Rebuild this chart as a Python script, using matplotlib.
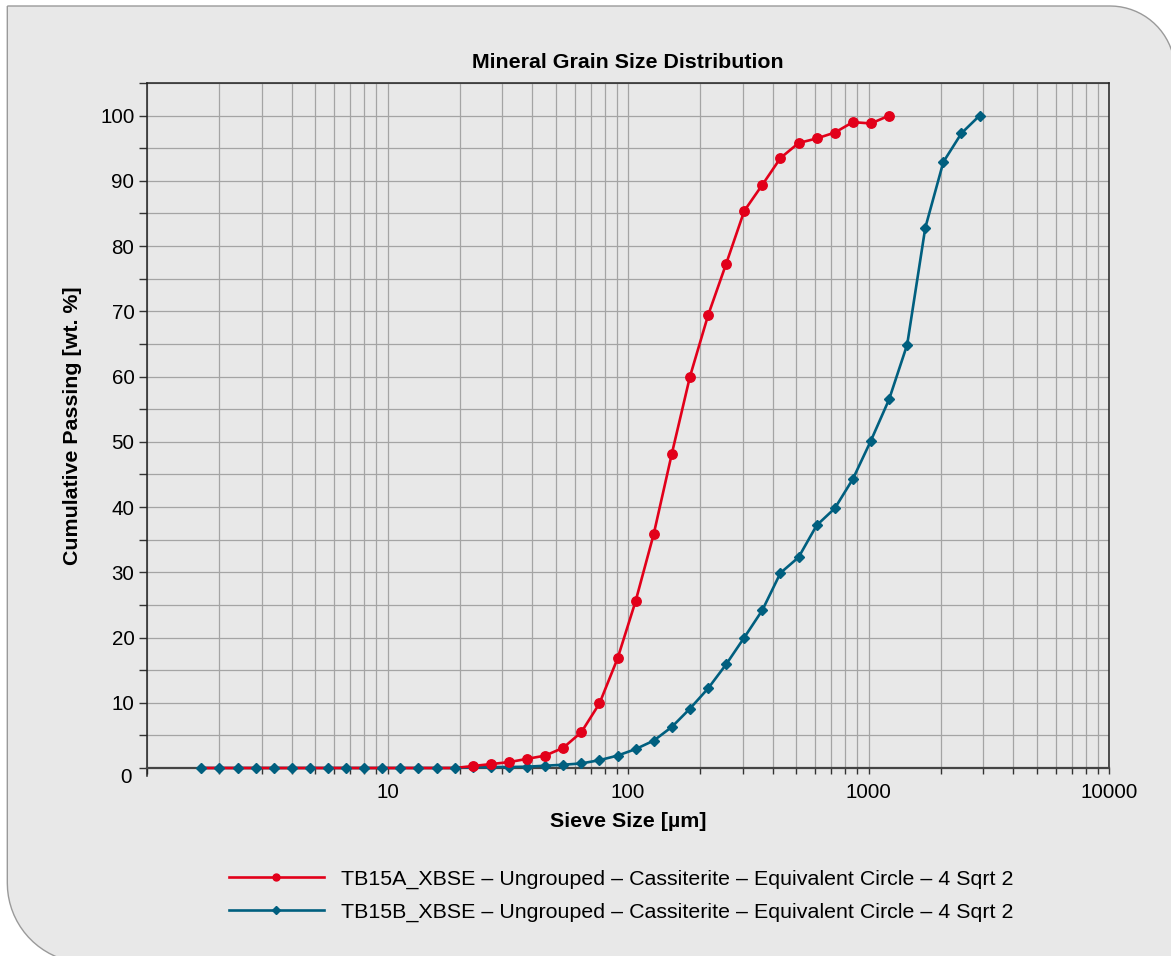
import numpy as np
import matplotlib
matplotlib.use("Agg")
import matplotlib.pyplot as plt
from matplotlib.path import Path
from matplotlib.patches import PathPatch
from matplotlib.lines import Line2D
from matplotlib.ticker import FixedLocator, LogLocator, NullFormatter

plt.rcParams["font.family"] = ["Liberation Sans", "DejaVu Sans"]

# Sieve sizes (4th root of 2 series) in µm
sieve_a = [1.68, 2, 2.38, 2.83, 3.36, 4, 4.76, 5.66, 6.73, 8, 9.51, 11.31, 13.45,
           16, 19.03, 22.63, 26.91, 32, 38.05, 45.25, 53.82, 64, 76.11, 90.51,
           107.6, 128, 152.2, 181, 215.3, 256, 304.4, 362, 430.5, 512, 608.9,
           724.1, 861.1, 1024, 1217.8]
sieve_b = sieve_a + [1448.2, 1722.2, 2048, 2435.5, 2896.3]

# Cumulative passing [wt. %]
passing_a = [0, 0, 0, 0, 0, 0, 0, 0, 0, 0, 0, 0, 0, 0, 0,
             0.3, 0.6, 0.9, 1.4, 1.9, 3.1, 5.5, 9.9, 16.8, 25.6, 35.9, 48.2,
             60.0, 69.4, 77.3, 85.4, 89.4, 93.5, 95.8, 96.5, 97.4, 99.0, 98.8, 100]
passing_b = [0, 0, 0, 0, 0, 0, 0, 0, 0, 0, 0, 0, 0, 0, 0,
             0.1, 0.15, 0.15, 0.2, 0.35, 0.5, 0.7, 1.2, 1.9, 2.9, 4.2, 6.3,
             9.1, 12.2, 15.9, 20.0, 24.2, 29.9, 32.3, 37.2, 39.8, 44.3, 50.2,
             56.5, 64.9, 82.8, 92.9, 97.3, 100]

label_a = "TB15A_XBSE \u2013 Ungrouped \u2013 Cassiterite \u2013 Equivalent Circle \u2013 4 Sqrt 2"
label_b = "TB15B_XBSE \u2013 Ungrouped \u2013 Cassiterite \u2013 Equivalent Circle \u2013 4 Sqrt 2"

red = "#e2001a"
teal = "#005f7f"
bg = "#e8e8e8"

W, H = 1171, 956
fig = plt.figure(figsize=(W / 100, H / 100), dpi=100, facecolor="white")

# rounded panel background (top-right and bottom-left corners rounded)
def px(x, y):
    return (x / W, 1 - y / H)

left, top, right, bottom = 7.3, 6, 1175, 963
r1, r2 = 65, 80
verts = [px(left, top), px(right - r1, top)]
for t in np.linspace(90, 0, 20):
    verts.append(px(right - r1 + r1 * np.cos(np.radians(t)), top + r1 - r1 * np.sin(np.radians(t))))
verts.append(px(right, bottom))
verts.append(px(left + r2, bottom))
for t in np.linspace(270, 180, 20):
    verts.append(px(left + r2 + r2 * np.cos(np.radians(t)), bottom - r2 - r2 * np.sin(np.radians(t))))
verts.append(px(left, top))
panel = PathPatch(Path(verts), facecolor=bg, edgecolor="#9a9a9a", lw=1.0,
                  transform=fig.transFigure, zorder=-10)
fig.add_artist(panel)

ax = fig.add_axes([147 / W, 1 - 768 / H, (1109 - 147) / W, (768 - 83) / H], zorder=1)
ax.set_facecolor(bg)
ax.set_xscale("log")
ax.set_xlim(1, 10000)
ax.set_ylim(0, 105)

# lines first, then markers so the diamonds sit over the red baseline
ax.plot(sieve_b, passing_b, color=teal, lw=1.9, zorder=3, clip_on=False)
ax.plot(sieve_a, passing_a, color=red, lw=1.9, zorder=4, clip_on=False)
ax.plot(sieve_b, passing_b, ls="none", marker="D", ms=5.4, color=teal, zorder=5, clip_on=False)
ax.plot(sieve_a, passing_a, ls="none", marker="o", ms=6.8, color=red,
        markevery=slice(15, None), zorder=6, clip_on=False)

# ticks
ax.xaxis.set_major_locator(FixedLocator([10, 100, 1000, 10000]))
ax.xaxis.set_minor_locator(LogLocator(base=10, subs=np.arange(1, 10), numticks=20))
ax.xaxis.set_minor_formatter(NullFormatter())
ax.set_xticklabels(["10", "100", "1000", "10000"])
ax.yaxis.set_major_locator(FixedLocator(np.arange(10, 101, 10)))
ax.yaxis.set_minor_locator(FixedLocator(np.arange(0, 106, 5)))
ax.tick_params(axis="x", which="both", direction="out", length=4, width=1, color="#333333",
               labelsize=14.8, pad=7)
ax.tick_params(axis="y", which="both", direction="out", length=6, width=1, color="#333333",
               labelsize=14.8, pad=3)
ax.annotate("0", xy=(0, 0), xycoords=("axes fraction", "data"), xytext=(-10.8, -6.5),
            textcoords="offset points", ha="right", va="center", fontsize=14.8)

ax.grid(True, which="both", color="#a4a4a4", lw=0.9, zorder=1)
ax.set_axisbelow(True)

for s in ["left", "top", "right"]:
    ax.spines[s].set_color("#222222")
    ax.spines[s].set_linewidth(1.1)
ax.spines["bottom"].set_color("#444444")
ax.spines["bottom"].set_linewidth(1.6)
ax.spines["left"].set_bounds(-1.2, 105)

ax.set_title("Mineral Grain Size Distribution", fontsize=15.4, fontweight="bold", pad=11)
ax.set_xlabel("Sieve Size [\u00b5m]", fontsize=15.4, fontweight="bold", labelpad=7)
ax.set_ylabel("Cumulative Passing [wt. %]", fontsize=15.4, fontweight="bold", labelpad=13)

handles = [Line2D([], [], color=red, lw=1.9, marker="o", ms=5),
           Line2D([], [], color=teal, lw=1.9, marker="D", ms=4)]
fig.legend(handles, [label_a, label_b], loc="center", bbox_to_anchor=(621 / W, 1 - 895.5 / H),
           frameon=False, fontsize=15.4, handlelength=4.45, handletextpad=0.8,
           labelspacing=0.64, markerscale=1)

fig.savefig("out.png", dpi=100, facecolor="white")
